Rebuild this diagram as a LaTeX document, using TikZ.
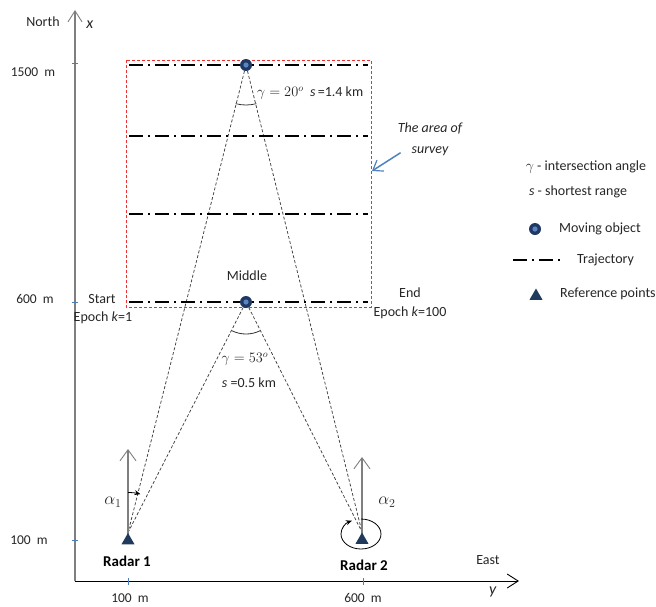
\documentclass[tikz,border=0pt]{standalone}
\usepackage{fontspec}
\setmainfont{Carlito}
\usetikzlibrary{arrows.meta,shapes.geometric}
\pgfdeclarelayer{background}
\pgfsetlayers{background,main}
\definecolor{navy}{HTML}{1F3864}
\definecolor{objlight}{HTML}{5B85C0}
\definecolor{tickblue}{HTML}{4A7EBB}
\definecolor{arrowblue}{HTML}{4F81BD}
\definecolor{txt}{HTML}{262626}
\definecolor{tri}{HTML}{1F3A5C}
\definecolor{axisgray}{HTML}{7F7F7F}
\definecolor{surveyred}{HTML}{F03030}

\begin{document}
\begin{tikzpicture}[x=1pt,y=-1pt,
  every node/.style={font=\fontsize{14}{16}\selectfont, text=txt, inner sep=0pt},
  barb/.style={-{Straight Barb[length=11pt,width=14pt,line width=0.9pt]}},
  axisN/.style={barb, draw=axisgray, line width=1.3pt},
  axisE/.style={barb, draw=black, line width=1pt},
  northarrow/.style={-{Straight Barb[length=11pt,width=16pt,line width=0.9pt]}, draw=axisgray, line width=1.5pt},
  tick/.style={draw=tickblue, line width=1pt},
  survey/.style={draw=surveyred, line width=0.8pt, dash pattern=on 3pt off 2pt},
  traj/.style={draw=black, line width=1.5pt, dash pattern=on 14pt off 5pt on 2pt off 5pt},
  ray/.style={draw=black!75, line width=0.75pt, dash pattern=on 3pt off 2pt},
  angarc/.style={draw=black!80, line width=0.8pt},
  azarc/.style={draw=black, line width=0.8pt, -{Stealth[length=6pt,width=5pt]}},
  obj/.style={circle, minimum size=12pt, fill=navy,
    path picture={\fill[objlight] (path picture bounding box.center) circle[radius=2.6pt];}},
  radar/.style={regular polygon, regular polygon sides=3, minimum size=15pt, fill=tri},
  lab/.style={font=\fontsize{13.5}{15}\selectfont},
  radarlab/.style={font=\fontsize{15}{17}\selectfont\bfseries, text=black},
  greek/.style={font=\fontsize{17}{19}\selectfont}
]
\useasboundingbox (0,0) rectangle (656,606);

% axes
\coordinate (O) at (75,581);
\coordinate (Ntip) at (75,10);
\coordinate (Etip) at (519,581);
\draw[axisN] (O) -- (Ntip);
\draw[axisE] (O) -- (Etip);
\node (north) at (43,22) {North};
\node[font=\fontsize{16}{18}\selectfont] (xlab) at (90,25) {\textit{x}};
\node (east) at (488,560) {East};
\node[font=\fontsize{16}{18}\selectfont] (ylab) at (493,592) {\textit{y}};

% tick marks and their values
\foreach \yy in {63,302,540} \draw[tick] (72,\yy) -- (78,\yy);
\foreach \xx in {128,363} \draw[tick] (\xx,578) -- (\xx,585);
\node[lab] (t1500) at (33,72) {1500\ \ m};
\node[lab] (t600) at (35,299) {600\ \ m};
\node[lab] (t100) at (29,540) {100\ \ m};
\node[lab] (b100) at (130,598) {100\ \ m};
\node[lab] (b600) at (363,598) {600\ \ m};

% surveyed area and trajectories
\draw[survey] (126,60) rectangle (371,307);
\foreach \yy in {65,136,214,302} \draw[traj] (129,\yy) -- (368,\yy);

% moving object and radars
\node[obj] (top) at (246,65) {};
\node[obj] (mid) at (246,302) {};
\node[radar] (r1) at (128,540.5) {};
\node[radar] (r2) at (362,540) {};
\coordinate (n1) at (128,449);
\coordinate (n2) at (362,457);

\begin{pgfonlayer}{background}
  \draw[ray] (top) -- (r1.corner 1);
  \draw[ray] (top) -- (r2.corner 1);
  \draw[ray] (mid) -- (r1.corner 1);
  \draw[ray] (mid) -- (r2.corner 1);
  \draw[northarrow] (r1.center) -- (n1);
  \draw[northarrow] (r2.center) -- (n2);
\end{pgfonlayer}

% intersection angles
\draw[angarc] ([shift={(75:40)}]top.center) arc[start angle=75, end angle=105, radius=40];
\draw[angarc] ([shift={(64:32)}]mid.center) arc[start angle=64, end angle=116, radius=32];

% azimuth angles
\draw[azarc] ([shift={(-90:48)}]r1.center) arc[start angle=-90, end angle=-75, radius=48];
\coordinate (c2) at (361,534);
\draw[azarc] ([shift={(0,-15)}]c2) arc[start angle=-90, end angle=243, x radius=20, y radius=15];

% labels
\node[anchor=west] (g20) at (257,93) {$\gamma = 20^{o}$\ \ \textit{s}\,=1.4 km};
\node (g53) at (245,359) {$\gamma = 53^{o}$};
\node (s05) at (249,383) {\textit{s} =0.5 km};
\node (middle) at (247,276) {Middle};
\node (start) at (102,299) {Start};
\node (ep1) at (103,318) {Epoch \textit{k}=1};
\node (endl) at (410,293) {End};
\node (ep100) at (410,313) {Epoch \textit{k}=100};
\node[greek] (al1) at (113,502) {$\alpha_1$};
\node[greek] (al2) at (387,502) {$\alpha_2$};
\node[radarlab] (rad1) at (127,561) {Radar 1};
\node[radarlab] (rad2) at (364,565) {Radar 2};

% annotation of the surveyed area
\node[align=center, font=\fontsize{14}{21}\selectfont\itshape] (area) at (430,139) {The area of\\survey};
\coordinate (areatip) at (372,171);
\draw[draw=arrowblue, line width=1.5pt, -{Straight Barb[length=9pt,width=13pt,line width=1.2pt]}] (area.south west) ++(3,-3) coordinate (areafrom) -- (areatip);

% legend
\node (lg1) at (586,167) {$\gamma$ - intersection angle};
\node (lg2) at (578,192) {\textit{s} - shortest range};
\node[obj] (lgobj) at (535,229) {};
\node[anchor=west] (lg3) at (559,229) {Moving object};
\coordinate (lgt1) at (513,260);
\coordinate (lgt2) at (561,260);
\draw[traj] (lgt1) -- (lgt2);
\node[anchor=west] (lg4) at (577,260) {Trajectory};
\node[radar] (lgtri) at (536,296) {};
\node[anchor=west] (lg5) at (560,294) {Reference points};
\end{tikzpicture}
\end{document}
